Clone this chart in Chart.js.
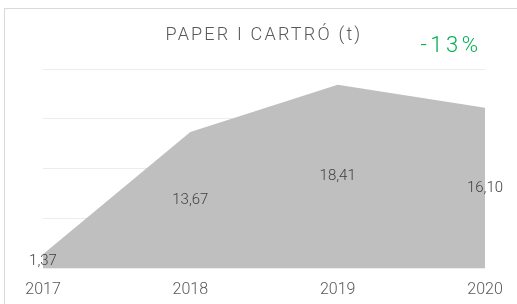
<!DOCTYPE html>
<html>
<head>
<meta charset="utf-8">
<script src="https://cdn.jsdelivr.net/npm/chart.js@4"></script>
<style>
  html, body { margin: 0; padding: 0; background: #fff; }
  #wrap { position: relative; width: 517px; height: 304px; overflow: hidden; }
  #frame { position: absolute; left: 4px; top: 8px; width: 600px; height: 400px; border: 1px solid #d9d9d9; }
  #chart { position: absolute; left: 0; top: 0; }
</style>
</head>
<body>
<div id="wrap">
  <div id="frame"></div>
  <canvas id="chart" width="517" height="304"></canvas>
</div>
<script>
// Data
const years = ['2017', '2018', '2019', '2020'];
const tonnes = [1.37, 13.67, 18.41, 16.10];
const chartTitle = 'PAPER I CARTRÓ (t)';
const changeLabel = '-13%';

const FONT = "Roboto, 'Liberation Sans', sans-serif";

// Title and the green change figure
const headerPlugin = {
    id: 'header',
    afterDraw(chart) {
        const c = chart.ctx;
        c.save();
        c.textAlign = 'center';
        c.textBaseline = 'middle';
        c.fillStyle = '#595959';
        c.font = '300 18px ' + FONT;
        c.letterSpacing = '2.2px';
        c.fillText(chartTitle, 264, 35);
        c.fillStyle = '#00b050';
        c.font = '300 22px ' + FONT;
        c.letterSpacing = '3.5px';
        c.fillText(changeLabel, 451, 46);
        c.restore();
    }
};

// Value labels in the middle of the area under each point
const valueLabels = {
    id: 'valueLabels',
    afterDatasetsDraw(chart) {
        const c = chart.ctx;
        const y = chart.scales.y;
        const meta = chart.getDatasetMeta(0);
        c.save();
        c.textAlign = 'center';
        c.textBaseline = 'middle';
        c.fillStyle = '#404040';
        c.font = '300 15px ' + FONT;
        meta.data.forEach((pt, i) => {
            const v = tonnes[i];
            c.fillText(v.toFixed(2).replace('.', ','), pt.x, y.getPixelForValue(v / 2));
        });
        c.restore();
    }
};

new Chart(document.getElementById('chart'), {
    type: 'line',
    data: {
        labels: years,
        datasets: [{
            data: tonnes,
            fill: 'origin',
            backgroundColor: '#bfbfbf',
            borderWidth: 0,
            pointRadius: 0,
            tension: 0
        }]
    },
    options: {
        responsive: false,
        animation: false,
        layout: { padding: { left: 43, right: 32, top: 69, bottom: 4 } },
        plugins: {
            legend: { display: false },
            tooltip: { enabled: false }
        },
        scales: {
            x: {
                offset: false,
                grid: { display: false, drawTicks: false },
                border: { display: false },
                ticks: {
                    color: '#595959',
                    font: { family: FONT, size: 16, weight: '300' },
                    padding: 12,
                    maxRotation: 0,
                    autoSkip: false
                },
                afterFit(scale) { scale.height = 32; }
            },
            y: {
                min: 0,
                max: 20,
                grid: { color: '#ececec', drawTicks: false },
                border: { display: false },
                ticks: { display: false, stepSize: 5 }
            }
        }
    },
    plugins: [headerPlugin, valueLabels]
});
</script>
</body>
</html>
